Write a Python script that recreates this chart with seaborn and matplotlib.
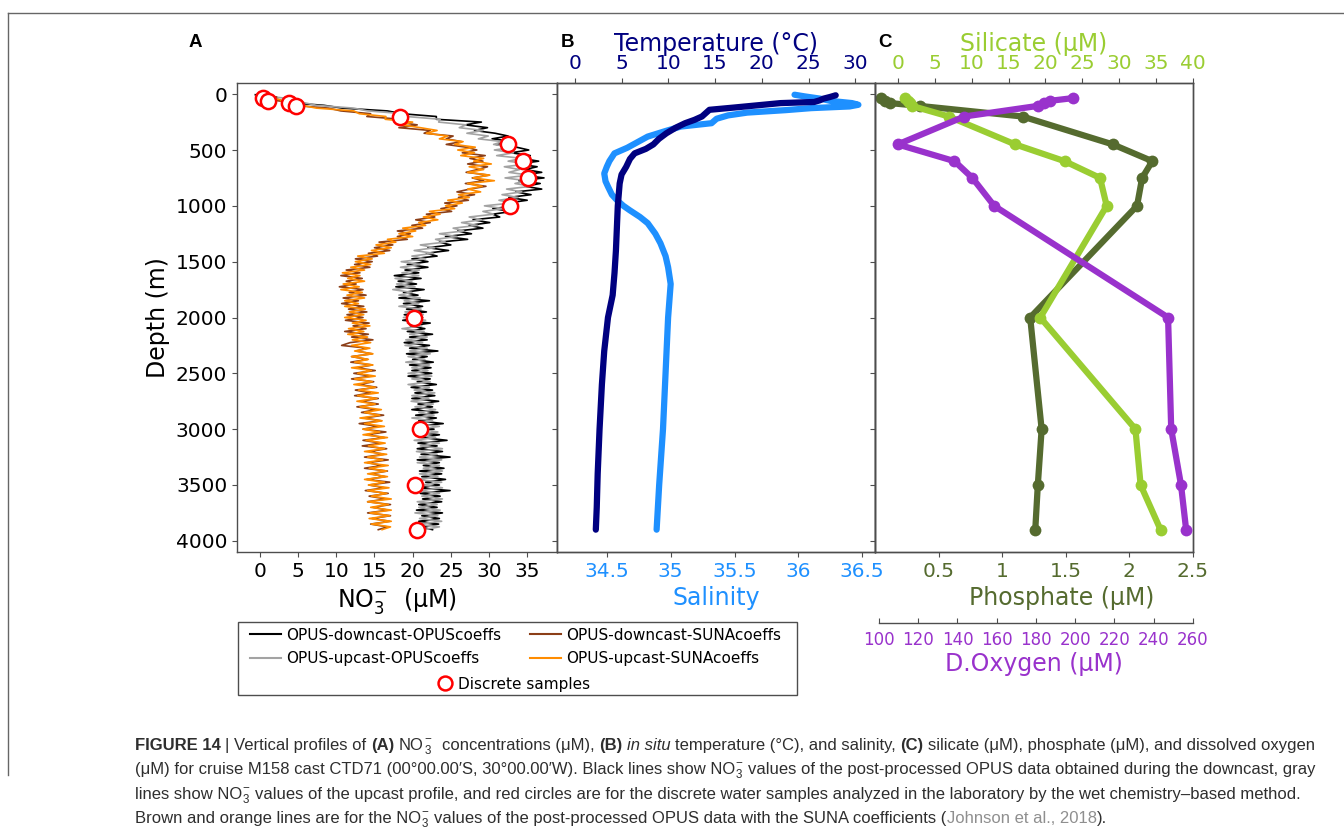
import numpy as np
import pandas as pd
import matplotlib
matplotlib.use("Agg")
import matplotlib.pyplot as plt
import seaborn as sns
from matplotlib.patches import Rectangle
from matplotlib.lines import Line2D
from matplotlib.ticker import FuncFormatter

# ---------------- data ----------------
# OPUS nitrate profiles, 25 m bins (depth in m, NO3- in uM)
no3_depth = [5, 25, 50, 75, 100, 125, 150, 175, 200, 225, 250, 275, 300, 325, 350, 375, 400,
             425, 450, 475, 500, 525, 550, 575, 600, 625, 650, 675, 700, 725, 750, 775, 800,
             825, 850, 875, 900, 925, 950, 975, 1000, 1025, 1050, 1075, 1100, 1125, 1150, 1175,
             1200, 1225, 1250, 1275, 1300, 1325, 1350, 1375, 1400, 1425, 1450, 1475, 1500,
             1525, 1550, 1575, 1600, 1625, 1650, 1675, 1700, 1725, 1750, 1775, 1800, 1825,
             1850, 1875, 1900, 1925, 1950, 1975, 2000, 2025, 2050, 2075, 2100, 2125, 2150,
             2175, 2200, 2225, 2250, 2275, 2300, 2325, 2350, 2375, 2400, 2425, 2450, 2475,
             2500, 2525, 2550, 2575, 2600, 2625, 2650, 2675, 2700, 2725, 2750, 2775, 2800,
             2825, 2850, 2875, 2900, 2925, 2950, 2975, 3000, 3025, 3050, 3075, 3100, 3125,
             3150, 3175, 3200, 3225, 3250, 3275, 3300, 3325, 3350, 3375, 3400, 3425, 3450,
             3475, 3500, 3525, 3550, 3575, 3600, 3625, 3650, 3675, 3700, 3725, 3750, 3775,
             3800, 3825, 3850, 3875, 3900]
no3_down_opus = [-0.6, 1.1, 2.5, 3.5, 8.4, 10.8, 16.7, 18.6, 23.1, 23.1, 29.0, 26.9, 29.8, 28.1,
                 30.8, 32.5, 30.4, 33.2, 30.9, 33.6, 35.2, 32.9, 35.4, 34.2, 36.5, 33.8, 36.3,
                 34.7, 36.9, 34.4, 37.2, 33.9, 36.7, 34.7, 36.9, 33.5, 35.5, 32.6, 35.0, 32.4,
                 33.5, 30.5, 33.0, 30.5, 31.4, 27.9, 30.1, 27.4, 29.2, 25.9, 27.7, 24.3, 27.2,
                 23.5, 25.0, 22.0, 24.7, 21.8, 23.2, 19.9, 22.0, 19.3, 22.0, 19.0, 20.8, 17.6,
                 21.1, 18.1, 20.5, 17.8, 21.5, 18.8, 20.7, 18.2, 22.2, 18.8, 21.3, 19.2, 21.8,
                 18.9, 21.3, 18.7, 22.3, 19.7, 21.6, 19.3, 22.6, 19.6, 21.9, 18.9, 22.2, 19.6,
                 23.3, 19.2, 21.9, 20.0, 22.7, 19.6, 22.4, 19.9, 22.5, 19.4, 22.3, 20.6, 23.1,
                 19.8, 22.6, 20.3, 22.9, 19.9, 23.4, 20.7, 22.6, 19.9, 23.3, 20.4, 23.1, 20.8,
                 24.0, 20.4, 22.8, 20.2, 23.5, 21.2, 24.5, 20.7, 23.2, 20.6, 23.9, 21.1, 24.9,
                 20.6, 23.5, 21.4, 24.1, 20.9, 23.8, 21.2, 24.3, 21.7, 23.5, 20.7, 24.9, 21.0,
                 23.6, 21.3, 23.8, 20.8, 23.2, 20.5, 23.9, 21.2, 23.5, 20.8, 23.4, 21.0, 22.6]
no3_up_opus = [0.3, 1.8, 5.3, 5.7, 7.4, 12.3, 14.1, 18.9, 19.2, 23.6, 23.4, 27.0, 26.1, 29.2,
               27.1, 29.9, 28.6, 31.8, 30.6, 33.1, 30.7, 33.2, 31.0, 34.3, 32.5, 35.1, 32.0,
               34.0, 32.6, 35.2, 32.1, 34.9, 33.4, 35.5, 32.3, 34.3, 31.7, 33.8, 31.3, 32.9,
               29.4, 31.9, 29.2, 30.6, 27.4, 29.0, 26.4, 28.5, 25.3, 26.7, 23.5, 25.8, 23.0,
               24.3, 21.0, 22.9, 20.2, 22.7, 19.9, 21.7, 18.5, 20.9, 18.4, 20.9, 18.6, 20.8,
               17.7, 19.9, 17.9, 20.3, 17.4, 19.9, 18.2, 21.0, 18.9, 20.8, 18.2, 21.1, 19.0,
               21.4, 18.8, 21.7, 19.3, 21.2, 18.6, 21.5, 19.6, 21.9, 19.1, 21.3, 19.0, 21.9,
               19.6, 22.3, 19.4, 21.6, 19.1, 22.2, 19.9, 22.0, 19.4, 22.5, 19.9, 22.3, 19.4,
               22.2, 20.2, 22.9, 19.9, 22.1, 19.8, 22.7, 20.3, 23.0, 20.8, 22.8, 19.9, 22.6,
               20.3, 23.5, 20.8, 23.3, 20.4, 23.0, 20.2, 23.5, 21.0, 23.9, 20.5, 23.2, 20.9,
               23.8, 20.6, 23.5, 21.4, 23.9, 20.9, 23.3, 20.6, 23.8, 21.2, 23.9, 20.9, 23.5,
               21.2, 23.9, 20.6, 23.2, 20.8, 23.6, 20.3, 23.3, 20.9, 23.8, 20.6, 23.5, 21.4]
no3_down_suna = [-0.3, 2.2, 1.4, 4.0, 4.2, 9.0, 10.6, 14.5, 14.0, 18.4, 18.0, 20.6, 18.2, 22.3,
                 21.5, 25.3, 24.4, 26.4, 24.4, 27.0, 28.4, 26.5, 29.5, 27.5, 29.2, 27.2, 29.8,
                 28.5, 27.0, 30.0, 27.8, 29.3, 26.9, 29.6, 27.5, 25.8, 28.1, 26.0, 27.3, 24.2,
                 25.8, 23.7, 25.1, 21.8, 22.9, 20.4, 22.3, 19.9, 21.3, 18.0, 19.7, 18.0, 19.3,
                 15.6, 17.4, 15.0, 17.0, 14.2, 15.4, 12.5, 14.7, 12.4, 14.4, 11.3, 13.1, 10.6,
                 13.4, 11.3, 12.6, 10.4, 13.5, 11.7, 13.9, 10.9, 12.9, 10.7, 13.6, 11.6, 14.0,
                 11.4, 13.5, 11.2, 14.3, 12.2, 13.9, 11.1, 14.2, 12.0, 14.8, 11.8, 10.7, 14.1,
                 12.6, 14.7, 12.0, 14.1, 11.9, 14.7, 12.7, 15.1, 12.3, 14.5, 12.0, 14.9, 13.0,
                 15.3, 12.5, 14.5, 12.4, 15.5, 13.2, 15.5, 12.7, 15.2, 13.3, 16.2, 13.6, 15.9,
                 13.0, 15.5, 13.5, 16.5, 14.0, 16.3, 13.5, 15.9, 13.4, 16.6, 14.4, 16.2, 13.7,
                 16.8, 14.1, 16.0, 13.7, 16.7, 14.5, 16.4, 14.0, 17.0, 14.3, 16.3, 13.8, 16.8,
                 14.3, 16.5, 14.1, 17.1, 14.8, 16.8, 14.1, 17.1, 14.7, 17.0, 14.5, 16.7, 15.5]
no3_up_suna = [1.0, 0.5, 2.7, 2.9, 5.5, 7.4, 12.3, 13.0, 16.5, 16.4, 20.0, 18.6, 21.0, 23.2,
               21.8, 24.6, 23.5, 26.6, 25.5, 28.2, 25.9, 28.1, 26.3, 29.3, 28.0, 30.3, 27.4,
               29.3, 27.2, 30.1, 27.9, 30.7, 27.2, 29.1, 27.2, 28.9, 26.0, 27.4, 24.6, 26.5,
               24.3, 25.5, 22.2, 23.6, 21.4, 23.3, 20.8, 21.7, 18.7, 20.4, 18.2, 20.0, 16.7,
               17.8, 15.2, 17.2, 14.6, 16.3, 12.8, 14.7, 12.5, 14.5, 11.9, 13.7, 10.8, 13.1,
               11.5, 13.7, 10.9, 13.0, 10.6, 13.4, 11.4, 13.7, 11.1, 12.9, 11.1, 13.8, 11.7,
               13.6, 11.1, 13.9, 12.1, 14.4, 11.6, 13.6, 11.5, 14.1, 12.1, 14.5, 12.0, 14.4,
               12.4, 14.8, 12.0, 14.2, 12.4, 14.8, 12.0, 14.6, 12.8, 15.1, 12.4, 14.7, 12.3,
               15.1, 12.9, 15.5, 12.8, 15.3, 12.7, 15.1, 13.1, 15.9, 13.7, 15.7, 13.1, 16.0,
               13.7, 16.3, 13.5, 15.7, 13.5, 16.7, 13.9, 16.4, 14.2, 16.3, 13.7, 16.6, 14.1,
               16.1, 13.7, 16.8, 14.3, 16.6, 14.1, 16.7, 13.7, 16.3, 14.2, 16.9, 14.1, 16.6,
               14.6, 17.2, 14.1, 16.8, 14.5, 17.2, 14.4, 17.0, 14.3, 17.2, 14.6, 17.1, 16.0]

# discrete bottle samples
sample_depth = [35, 60, 80, 105, 200, 450, 600, 750, 1000, 2000, 3000, 3500, 3900]
sample_no3 = [0.4, 1.1, 3.8, 4.7, 18.3, 32.5, 34.5, 35.1, 32.7, 20.2, 21.0, 20.3, 20.6]
phosphate = [0.05, 0.08, 0.12, 0.35, 1.16, 1.87, 2.18, 2.10, 2.06, 1.22, 1.31, 1.28, 1.26]
silicate = [0.95, 1.4, 1.7, 1.9, 6.9, 15.9, 22.6, 27.4, 28.3, 19.3, 32.2, 32.9, 35.6]
oxygen = [199, 187, 184, 181, 143.5, 109.6, 138.5, 147.6, 158.7, 247.3, 248.9, 253.9, 256.5]

# CTD temperature and salinity
temp_depth = [10, 25, 40, 55, 70, 80, 100, 120, 140, 170, 200, 230, 260, 300, 350, 400, 450, 490,
              530, 580, 650, 720, 800, 900, 1000, 1200, 1400, 1600, 1800, 2000, 2300, 2600, 3000,
              3400, 3700, 3900]
temperature = [27.9, 27.3, 26.6, 26.2, 25.6, 22.0, 19.5, 17.0, 14.4, 14.0, 13.6, 12.8, 11.8, 10.8,
               9.8, 9.0, 8.4, 7.6, 6.4, 5.9, 5.5, 5.0, 4.8, 4.7, 4.6, 4.5, 4.4, 4.25, 4.05, 3.55,
               3.15, 2.9, 2.65, 2.45, 2.35, 2.25]
sal_depth = [5, 20, 40, 60, 80, 95, 110, 125, 143, 165, 190, 220, 260, 290, 330, 380, 430, 480,
             530, 600, 650, 710, 780, 830, 900, 950, 1000, 1040, 1100, 1155, 1250, 1335, 1450,
             1550, 1700, 1850, 2000, 2500, 3000, 3500, 3900]
salinity = [35.97, 36.05, 36.17, 36.25, 36.42, 36.47, 36.40, 36.10, 35.90, 35.60, 35.45, 35.36,
            35.32, 35.08, 34.96, 34.82, 34.74, 34.66, 34.56, 34.52, 34.50, 34.48, 34.49, 34.51,
            34.54, 34.58, 34.63, 34.68, 34.76, 34.82, 34.88, 34.92, 34.96, 34.98, 35.00, 34.99,
            34.98, 34.96, 34.94, 34.91, 34.89]

series_names = ["OPUS-downcast-OPUScoeffs", "OPUS-upcast-OPUScoeffs",
                "OPUS-downcast-SUNAcoeffs", "OPUS-upcast-SUNAcoeffs"]
series_colors = ["black", "#a3a3a3", "#8b3e17", "#ff8c00"]

# ---------------- figure ----------------
W, H = 1344, 833
fig = plt.figure(figsize=(W / 100, H / 100), dpi=100)
plt.rcParams["font.family"] = ["DejaVu Sans"]


def fx(x):
    return x / W


def fy(y):
    return 1 - y / H


TOP, BOT = 83, 552
hgt = (BOT - TOP) / H
ax_a = fig.add_axes([fx(237), fy(BOT), (557 - 237) / W, hgt])
ax_b = fig.add_axes([fx(557), fy(BOT), (875 - 557) / W, hgt], sharey=ax_a)
ax_c = fig.add_axes([fx(875), fy(BOT), (1193 - 875) / W, hgt], sharey=ax_a)

TICK = 14.5
LAB = 17
SPINE = "0.3"

# panel A: nitrate
no3 = pd.DataFrame({
    "depth": no3_depth * 4,
    "no3": no3_down_opus + no3_up_opus + no3_down_suna + no3_up_suna,
    "series": sum([[n] * len(no3_depth) for n in series_names], []),
})
sns.lineplot(data=no3, x="no3", y="depth", hue="series", hue_order=series_names,
             palette=dict(zip(series_names, series_colors)), estimator=None, sort=False,
             orient="y", lw=1.2, legend=False, ax=ax_a)
sns.scatterplot(x=sample_no3, y=sample_depth, marker="o", s=120, color="white",
                edgecolor="red", linewidth=1.8, zorder=5, ax=ax_a)
ax_a.set_xlim(-3, 38.9)
ax_a.set_xticks([0, 5, 10, 15, 20, 25, 30, 35])
ax_a.set_ylim(4100, -100)
ax_a.set_yticks([0, 500, 1000, 1500, 2000, 2500, 3000, 3500, 4000])
ax_a.set_xlabel(r"NO$_3^{-}$  (μM)", fontsize=LAB)
ax_a.set_ylabel("Depth (m)", fontsize=LAB)

# panel B: salinity (bottom) and temperature (top)
sns.lineplot(x=salinity, y=sal_depth, color="#1e90ff", lw=4.5, orient="y", sort=False,
             solid_capstyle="round", ax=ax_b)
ax_bt = ax_b.twiny()
sns.lineplot(x=temperature, y=temp_depth, color="#000080", lw=4.5, orient="y", sort=False,
             solid_capstyle="round", ax=ax_bt)
ax_b.set_xlim(34.11, 36.6)
ax_b.set_xticks([34.5, 35, 35.5, 36, 36.5])
ax_bt.set_xlim(-1.9, 32.1)
ax_bt.set_xticks([0, 5, 10, 15, 20, 25, 30])
ax_b.set_xlabel("Salinity", fontsize=LAB, color="#1e90ff")
ax_bt.set_xlabel("Temperature (°C)", fontsize=LAB, color="#000080", labelpad=2)
ax_b.tick_params(axis="x", labelcolor="#1e90ff")
ax_bt.tick_params(axis="x", labelcolor="#000080")

# panel C: phosphate (bottom), silicate (top), oxygen (offset bottom)
mk = dict(marker="o", markersize=8.5, markeredgewidth=0, lw=4.5, orient="y", sort=False)
sns.lineplot(x=phosphate, y=sample_depth, color="#556b2f", ax=ax_c, **mk)
ax_ct = ax_c.twiny()
sns.lineplot(x=silicate, y=sample_depth, color="#9acd32", ax=ax_ct, **mk)
ax_co = ax_c.twiny()
sns.lineplot(x=oxygen, y=sample_depth, color="#9932cc", ax=ax_co, **mk)
ax_c.set_xlim(0, 2.5)
ax_c.set_xticks([0.5, 1, 1.5, 2, 2.5])
ax_ct.set_xlim(-3.1, 40)
ax_ct.set_xticks([0, 5, 10, 15, 20, 25, 30, 35, 40])
ax_co.set_xlim(98, 260)
ax_co.set_xticks([100, 120, 140, 160, 180, 200, 220, 240, 260])
ax_c.set_xlabel("Phosphate (μM)", fontsize=LAB, color="#556b2f")
ax_c.xaxis.set_label_coords(0.588, -0.072)
ax_ct.set_xlabel("Silicate (μM)", fontsize=LAB, color="#9acd32", labelpad=2)
ax_c.tick_params(axis="x", labelcolor="#556b2f")
ax_ct.tick_params(axis="x", labelcolor="#9acd32")

ax_co.xaxis.set_ticks_position("bottom")
ax_co.xaxis.set_label_position("bottom")
for s in ["top", "left", "right"]:
    ax_co.spines[s].set_visible(False)
ax_co.spines["bottom"].set_position(("outward", 51))
ax_co.spines["bottom"].set_bounds(100, 260)
ax_co.tick_params(axis="x", direction="in", pad=6, labelsize=12, labelcolor="#9932cc")
ax_co.set_xlabel("D.Oxygen (μM)", fontsize=LAB, color="#9932cc", labelpad=2)

fmt = FuncFormatter(lambda v, p: f"{v:g}")
for ax in [ax_a, ax_b, ax_bt, ax_c, ax_ct, ax_co]:
    ax.xaxis.set_major_formatter(fmt)
    ax.tick_params(labelsize=TICK, color=SPINE, width=0.8)
    for sp in ax.spines.values():
        sp.set_color(SPINE)
        sp.set_linewidth(1.0)
ax_co.tick_params(axis="x", labelsize=12)
for ax in [ax_b, ax_c]:
    ax.tick_params(axis="y", labelleft=False)
    ax.set_ylabel("")
for ax in [ax_bt, ax_ct, ax_co]:
    ax.set_ylabel("")

# panel letters
for letter, xl in [("A", 195), ("B", 567), ("C", 885)]:
    fig.text(fx(xl), fy(47), letter, ha="center", va="baseline", fontsize=13.5,
             fontweight="bold", family=["Liberation Sans", "DejaVu Sans"])

# legend
line_handles = [Line2D([], [], color=c, lw=1.5) for c in series_colors]
fig.legend(line_handles, series_names, ncol=2, loc="center left",
           bbox_to_anchor=(fx(250), fy(647)), frameon=False, fontsize=11,
           handlelength=2.0, handletextpad=0.35, columnspacing=1.9, borderpad=0,
           borderaxespad=0, labelspacing=0.55)
circle = Line2D([], [], ls="none", marker="o", mfc="white", mec="red", ms=10, mew=1.8)
fig.legend([circle], ["Discrete samples"], loc="center left",
           bbox_to_anchor=(fx(437), fy(684)), frameon=False, fontsize=11,
           handlelength=1.0, handletextpad=0.35, borderpad=0, borderaxespad=0)
fig.add_artist(Rectangle((fx(238), fy(695)), (797 - 238) / W, (695 - 622) / H,
                         transform=fig.transFigure, fill=False, ec="0.3", lw=1))

# page frame
fig.add_artist(Line2D([fx(8), 1.0], [fy(13), fy(13)], transform=fig.transFigure,
                      color="0.4", lw=1))
fig.add_artist(Line2D([fx(8), fx(8)], [fy(13), fy(775)], transform=fig.transFigure,
                      color="0.4", lw=1))

# caption
renderer = fig.canvas.get_renderer()
CAP_FAM = ["Liberation Sans", "DejaVu Sans"]
CAP_SIZE = 12.0
SUB = r"$_\mathregular{3}^\mathregular{-}$"
caption = [
    (750, [("FIGURE 14", "b"), (" | Vertical profiles of ", "n"), ("(A)", "b"), (" NO", "n"),
           (SUB, "n"), ("  concentrations (μM), ", "n"), ("(B)", "b"), (" ", "n"),
           ("in situ", "i"), (" temperature (°C), and salinity, ", "n"), ("(C)", "b"),
           (" silicate (μM), phosphate (μM), and dissolved oxygen", "n")]),
    (774, [("(μM) for cruise M158 cast CTD71 (00°00.00′S, 30°00.00′W). Black lines show NO", "n"),
           (SUB, "n"),
           (" values of the post-processed OPUS data obtained during the downcast, gray", "n")]),
    (799, [("lines show NO", "n"), (SUB, "n"),
           (" values of the upcast profile, and red circles are for the discrete water samples "
            "analyzed in the laboratory by the wet chemistry–based method.", "n")]),
    (823, [("Brown and orange lines are for the NO", "n"), (SUB, "n"),
           (" values of the post-processed OPUS data with the SUNA coefficients (", "n"),
           ("Johnson et al., 2018", "g"), (").", "n")]),
]


def text_width(s, **kw):
    t = fig.text(0, 0, s, **kw)
    w = t.get_window_extent(renderer).width
    t.remove()
    return w


base_kw = dict(fontsize=CAP_SIZE, family=CAP_FAM)
space_w = text_width("a a", **base_kw) - text_width("aa", **base_kw)

for ybase, runs in caption:
    x = 135.0
    for txt, style in runs:
        core = txt.strip(" ")
        if not core:
            x += len(txt) * space_w
            continue
        lead = len(txt) - len(txt.lstrip(" "))
        trail = len(txt) - len(txt.rstrip(" "))
        x += lead * space_w
        kw = dict(base_kw, color="#2e2e2e")
        if style == "b":
            kw["fontweight"] = "bold"
        elif style == "i":
            kw["fontstyle"] = "italic"
        elif style == "g":
            kw["color"] = "#8f8f8f"
        t = fig.text(fx(x), fy(ybase), core, ha="left", va="baseline", **kw)
        x = t.get_window_extent(renderer).x1
        x += trail * space_w

fig.savefig("out.png", dpi=100)
